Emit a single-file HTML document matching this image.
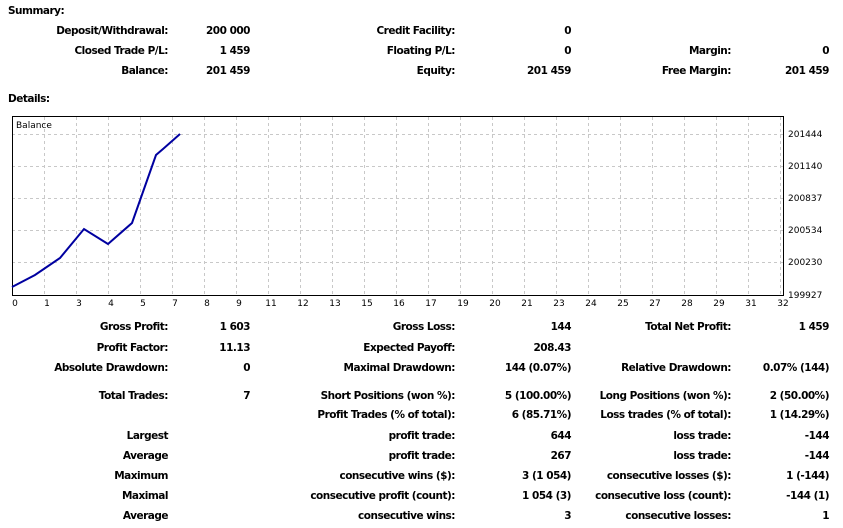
<!DOCTYPE html><html><head><style>
body{margin:0;width:843px;height:528px;background:#fff;position:relative;overflow:hidden;font-family:"DejaVu Sans","Liberation Sans",sans-serif;font-size:10.5px;font-weight:bold;color:#000;letter-spacing:-0.5px}
.r{position:absolute;text-align:right;white-space:nowrap;line-height:14px}
.l{position:absolute;white-space:nowrap;line-height:14px}
</style></head><body>
<div class="l" style="left:8px;top:4px">Summary:</div>
<div class="l" style="left:8px;top:92px">Details:</div>
<div id="t"></div>
<svg style="position:absolute;left:0;top:0;letter-spacing:0" width="843" height="528">
<g stroke="#c8c8c8" stroke-dasharray="3,3" stroke-width="1">
<line x1="12" y1="134.5" x2="783" y2="134.5"/><line x1="12" y1="166.5" x2="783" y2="166.5"/><line x1="12" y1="198.5" x2="783" y2="198.5"/><line x1="12" y1="230.5" x2="783" y2="230.5"/><line x1="12" y1="262.5" x2="783" y2="262.5"/>
<g id="vg"></g>
</g>
<rect x="12.5" y="116.5" width="771" height="179" fill="none" stroke="#000"/>
<polyline fill="none" stroke="#0000a0" stroke-width="2" points="12,287 35,275 60,258 84,229 108,244 132,223 156,155 163,149 180,134"/>
<text x="16" y="128" font-size="9" font-weight="normal" font-family="DejaVu Sans,sans-serif">Balance</text>
<g font-size="9" font-weight="normal" font-family="DejaVu Sans,sans-serif" id="yl">
<text x="788" y="137">201444</text><text x="788" y="169">201140</text><text x="788" y="201">200837</text><text x="788" y="233">200534</text><text x="788" y="265">200230</text><text x="788" y="298">199927</text>
</g>
<g id="xl" font-size="9" font-weight="normal" font-family="DejaVu Sans,sans-serif" text-anchor="middle"></g>
</svg>
<script>
var xs=[0,1,3,4,5,7,8,9,11,12,13,15,16,17,19,20,21,23,24,25,27,28,29,31,32];
var vg='',xl='';
for(var i=0;i<25;i++){var x=12+i*32;if(i>0&&i<25)vg+='<line x1="'+(x+.5)+'" y1="117" x2="'+(x+.5)+'" y2="295"/>';xl+='<text x="'+(x+3)+'" y="306">'+xs[i]+'</text>';}
document.getElementById('vg').innerHTML=vg;document.getElementById('xl').innerHTML=xl;
var rows=[
[24,["Deposit/Withdrawal:","200 000","Credit Facility:","0","",""]],
[44,["Closed Trade P/L:","1 459","Floating P/L:","0","Margin:","0"]],
[64,["Balance:","201 459","Equity:","201 459","Free Margin:","201 459"]],
[320,["Gross Profit:","1 603","Gross Loss:","144","Total Net Profit:","1 459"]],
[341,["Profit Factor:","11.13","Expected Payoff:","208.43","",""]],
[361,["Absolute Drawdown:","0","Maximal Drawdown:","144 (0.07%)","Relative Drawdown:","0.07% (144)"]],
[389,["Total Trades:","7","Short Positions (won %):","5 (100.00%)","Long Positions (won %):","2 (50.00%)"]],
[408,["","","Profit Trades (% of total):","6 (85.71%)","Loss trades (% of total):","1 (14.29%)"]],
[429,["Largest","","profit trade:","644","loss trade:","-144"]],
[449,["Average","","profit trade:","267","loss trade:","-144"]],
[469,["Maximum","","consecutive wins ($):","3 (1 054)","consecutive losses ($):","1 (-144)"]],
[489,["Maximal","","consecutive profit (count):","1 054 (3)","consecutive loss (count):","-144 (1)"]],
[509,["Average","","consecutive wins:","3","consecutive losses:","1"]]];
var rights=[168,250,455,571,731,829],h='';
rows.forEach(function(r){r[1].forEach(function(t,j){if(t)h+='<div class="r" style="right:'+(843-rights[j])+'px;top:'+r[0]+'px">'+t+'</div>';});});
document.getElementById('t').innerHTML=h;
</script>
</body></html>
